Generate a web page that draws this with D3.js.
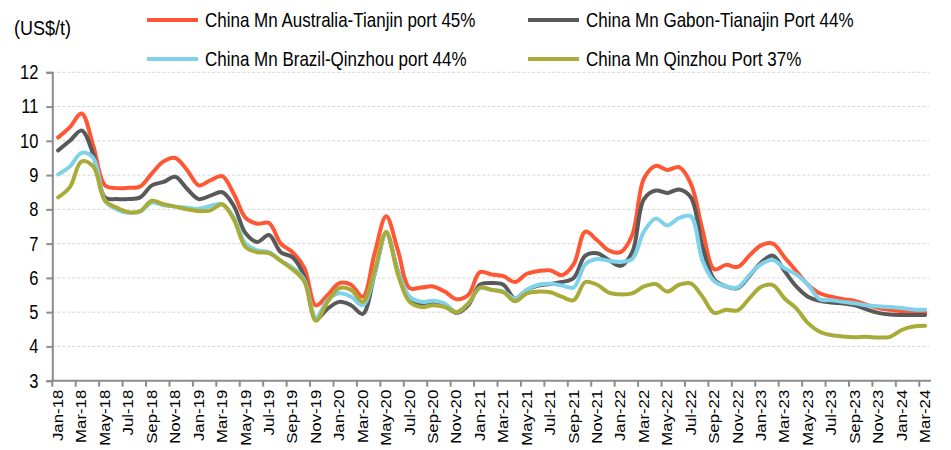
<!DOCTYPE html>
<html>
<head>
<meta charset="utf-8">
<script src="https://cdn.jsdelivr.net/npm/d3@7"></script>
<style>
  body { margin: 0; background: #fff; }
  svg { display: block; font-family: "Liberation Sans", Arial, sans-serif; }
</style>
</head>
<body>
<div id="chart"></div>
<script>
const width = 951;
const height = 450;

// Month categories, Jan-18 .. Mar-24
const monthNames = ["Jan", "Feb", "Mar", "Apr", "May", "Jun", "Jul", "Aug", "Sep", "Oct", "Nov", "Dec"];
const months = [];
for (let yr = 18; yr <= 24; yr++) {
    for (let m = 0; m < 12; m++) {
        if (yr === 24 && m > 2) break;
        months.push(`${monthNames[m]}-${yr}`);
    }
}

const seriesNames = [
    "China Mn Australia-Tianjin port 45%",
    "China Mn Gabon-Tianajin Port 44%",
    "China Mn Brazil-Qinzhou port 44%",
    "China Mn Qinzhou Port 37%"
];

const australia = [
    10.1, 10.4, 10.8, 9.85, 8.7, 8.62, 8.63, 8.67, 9.05, 9.4, 9.5, 9.15,
    8.7, 8.85, 8.97, 8.45, 7.75, 7.58, 7.6, 7.0, 6.75, 6.3, 5.2, 5.5,
    5.85, 5.8, 5.45, 6.7, 7.8, 6.8, 5.7, 5.72, 5.75, 5.6, 5.38, 5.5,
    6.17, 6.1, 6.05, 5.88, 6.12, 6.2, 6.22, 6.08, 6.4, 7.35, 7.1, 6.8,
    6.75, 7.25, 8.9, 9.27, 9.15, 9.23, 8.75, 7.4, 6.25, 6.38, 6.32, 6.65,
    6.95, 7.0, 6.6, 6.2, 5.8, 5.55, 5.45, 5.38, 5.33, 5.22, 5.12, 5.07,
    5.03, 5.0, 5.0
];

const gabon = [
    9.72, 10.0, 10.3, 9.6, 8.35, 8.3, 8.3, 8.35, 8.7, 8.8, 8.95, 8.6,
    8.3, 8.4, 8.5, 8.1, 7.3, 7.05, 7.25, 6.75, 6.6, 6.05, 4.8, 5.1,
    5.3, 5.2, 4.95, 6.1, 7.3, 6.2, 5.4, 5.25, 5.3, 5.2, 4.98, 5.2,
    5.8, 5.85, 5.8, 5.4, 5.65, 5.78, 5.82, 5.88, 6.0, 6.65, 6.72, 6.52,
    6.35, 6.75, 8.3, 8.55, 8.48, 8.58, 8.35, 6.9, 5.95, 5.75, 5.7, 6.05,
    6.45, 6.65, 6.2, 5.75, 5.45, 5.33, 5.28, 5.25, 5.2, 5.08, 4.98, 4.93,
    4.92, 4.92, 4.92
];

const brazil = [
    9.02, 9.25, 9.65, 9.5, 8.25, 8.0, 7.9, 7.93, 8.2, 8.12, 8.08, 8.05,
    8.02, 8.1, 8.15, 7.75, 7.0, 6.8, 6.75, 6.5, 6.3, 5.95, 4.85, 5.35,
    5.55, 5.45, 5.2, 6.1, 7.3, 6.2, 5.45, 5.3, 5.33, 5.25, 5.0, 5.25,
    5.7, 5.65, 5.6, 5.4, 5.65, 5.8, 5.83, 5.78, 5.72, 6.4, 6.55, 6.5,
    6.47, 6.55, 7.35, 7.73, 7.53, 7.75, 7.8, 6.5, 5.9, 5.75, 5.72, 6.08,
    6.4, 6.52, 6.28, 6.1, 5.8, 5.38, 5.35, 5.3, 5.26, 5.2, 5.17, 5.15,
    5.12, 5.08, 5.07
];

const qinzhou = [
    8.35, 8.65, 9.4, 9.25, 8.25, 8.05, 7.92, 7.95, 8.25, 8.15, 8.08, 8.0,
    7.95, 7.97, 8.15, 7.7, 6.9, 6.75, 6.72, 6.5, 6.25, 5.9, 4.75, 5.3,
    5.7, 5.65, 5.3, 6.2, 7.35, 6.1, 5.3, 5.15, 5.2, 5.15, 5.0, 5.25,
    5.72, 5.65, 5.58, 5.32, 5.55, 5.6, 5.58, 5.45, 5.35, 5.88, 5.8, 5.57,
    5.52, 5.55, 5.75, 5.82, 5.6, 5.8, 5.84, 5.45, 4.98, 5.07, 5.05, 5.4,
    5.74, 5.79, 5.4, 5.11, 4.68, 4.43, 4.33, 4.29, 4.27, 4.28, 4.26, 4.28,
    4.48, 4.58, 4.6
];

const yTicks = [3, 4, 5, 6, 7, 8, 9, 10, 11, 12];
const colors = ["#ff5733", "#595959", "#7fd2ea", "#a8ab38"];

const series = [australia, gabon, brazil, qinzhou].map((vals, i) => ({
    name: seriesNames[i],
    color: colors[i],
    values: vals.map((v, j) => ({ month: months[j], value: v }))
}));

// Plot area
const plot = { left: 52.3, right: 931, top: 72.3, bottom: 380.7 };
const textStretch = 1.2; // source text is taller than it is wide

const svg = d3.select("#chart")
    .append("svg")
    .attr("width", width)
    .attr("height", height);

const x = d3.scalePoint()
    .domain(months)
    .range([plot.left, plot.right])
    .padding(0.5);

const y = d3.scaleLinear()
    .domain([3, 12])
    .range([plot.bottom, plot.top]);

const step = x.step();

// Dashed gridlines
svg.append("g")
    .selectAll("line")
    .data(yTicks.filter(d => d > 3))
    .enter()
    .append("line")
    .attr("x1", plot.left)
    .attr("x2", plot.right - 2)
    .attr("y1", d => y(d))
    .attr("y2", d => y(d))
    .attr("stroke", "#d4d4d4")
    .attr("stroke-width", 1)
    .attr("stroke-dasharray", "3,2");

// Y axis
const yAxis = svg.append("g")
    .attr("transform", `translate(${plot.left},0)`)
    .call(d3.axisLeft(y).tickValues(yTicks).tickSize(6).tickPadding(8));
yAxis.select(".domain").attr("stroke", "#8c8c8c").attr("stroke-width", 2);
yAxis.selectAll(".tick line").attr("stroke", "#8c8c8c").attr("stroke-width", 2);
yAxis.selectAll("text")
    .attr("fill", "#000")
    .style("font-size", "16px")
    .style("font-family", "'Liberation Sans', Arial, sans-serif")
    .each(function () {
        const t = d3.select(this);
        const tx = +t.attr("x");
        t.attr("x", 0).attr("transform", `translate(${tx},0) scale(1.03,${textStretch + 0.05})`);
    });

// X axis line
svg.append("line")
    .attr("x1", plot.left - 1)
    .attr("x2", plot.right)
    .attr("y1", plot.bottom)
    .attr("y2", plot.bottom)
    .attr("stroke", "#8c8c8c")
    .attr("stroke-width", 2);

// X tick marks at category boundaries, every 2 months
const labelMonths = months.filter((d, i) => i % 2 === 0);
svg.append("g")
    .selectAll("line")
    .data(labelMonths)
    .enter()
    .append("line")
    .attr("x1", d => x(d) - step / 2)
    .attr("x2", d => x(d) - step / 2)
    .attr("y1", plot.bottom)
    .attr("y2", plot.bottom + 6)
    .attr("stroke", "#8c8c8c")
    .attr("stroke-width", 2);

// X labels, rotated
svg.append("g")
    .selectAll("text")
    .data(labelMonths)
    .enter()
    .append("text")
    .attr("transform", d => `translate(${x(d)},${plot.bottom + 9}) rotate(-90) scale(${textStretch},1)`)
    .attr("dy", "0.35em")
    .attr("text-anchor", "end")
    .style("font-size", "14px")
    .text(d => d);

// Unit label
svg.append("text")
    .attr("transform", `translate(14,35) scale(1.06,${textStretch})`)
    .style("font-size", "17px")
    .text("(US$/t)");

// Lines
const line = d3.line()
    .x(d => x(d.month))
    .y(d => y(d.value))
    .curve(d3.curveCatmullRom.alpha(0.5));

svg.append("g")
    .selectAll("path")
    .data(series)
    .enter()
    .append("path")
    .attr("d", d => line(d.values))
    .attr("fill", "none")
    .attr("stroke", d => d.color)
    .attr("stroke-width", 4)
    .attr("stroke-linejoin", "round")
    .attr("stroke-linecap", "round");

// Legend (2 x 2)
const legendPos = [
    { x: 147, y: 20 },
    { x: 528, y: 20 },
    { x: 147, y: 59 },
    { x: 528, y: 59 }
];

const legend = svg.append("g").attr("class", "legend");
const items = legend.selectAll("g")
    .data(series)
    .enter()
    .append("g")
    .attr("transform", (d, i) => `translate(${legendPos[i].x},${legendPos[i].y})`);

items.append("line")
    .attr("x1", 0)
    .attr("x2", 51)
    .attr("stroke", d => d.color)
    .attr("stroke-width", 4);

items.append("text")
    .attr("transform", `translate(58,0) scale(1,${textStretch})`)
    .attr("dy", "0.35em")
    .style("font-size", "17px")
    .text(d => d.name);
</script>
</body>
</html>
